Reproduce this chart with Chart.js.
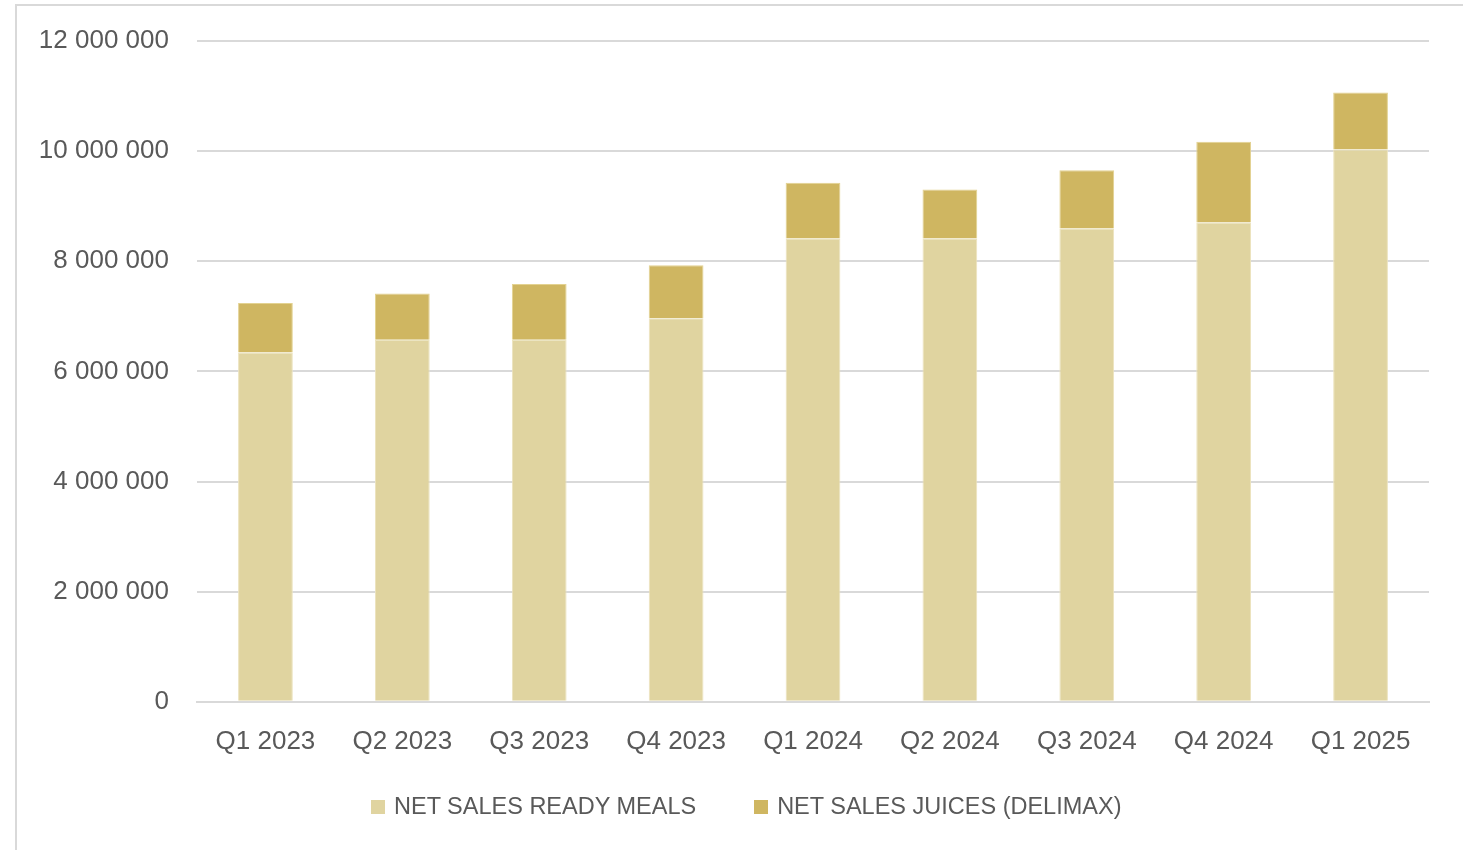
<!DOCTYPE html>
<html>
<head>
<meta charset="utf-8">
<script src="https://cdn.jsdelivr.net/npm/chart.js@4.4.1/dist/chart.umd.min.js"></script>
<style>
  html, body { margin: 0; padding: 0; background: #fff; }
  #wrap { position: relative; width: 1463px; height: 850px; overflow: hidden; font-family: 'Liberation Sans', Arial, sans-serif; }
  #frame { position: absolute; left: 15px; top: 4px; width: 1500px; height: 900px;
           border-left: 2px solid #d9d9d9; border-top: 2px solid #d9d9d9; }
  #chartBox { position: absolute; left: 0; top: 0; width: 1463px; height: 850px; }
  #legend { position: absolute; left: 371px; top: 793px; display: flex; align-items: center;
            font-size: 23.5px; color: #595959; white-space: nowrap; }
  #legend .item { display: flex; align-items: center; margin-right: 58px; }
  #legend .swatch { width: 14px; height: 14px; margin-right: 9px; }
</style>
</head>
<body>
<div id="wrap">
  <div id="frame"></div>
  <div id="chartBox"><canvas id="salesChart"></canvas></div>
  <div id="legend"></div>
</div>
<script>
// quarters on the x axis
const quarters = ['Q1 2023', 'Q2 2023', 'Q3 2023', 'Q4 2023', 'Q1 2024', 'Q2 2024', 'Q3 2024', 'Q4 2024', 'Q1 2025'];

// values
const readyMeals = [6345000, 6576000, 6576000, 6964000, 8413000, 8413000, 8594000, 8704000, 10031000];
const juices = [897000, 837000, 1011000, 963000, 1011000, 891000, 1061000, 1465000, 1036000];

const yTicks = [0, 2000000, 4000000, 6000000, 8000000, 10000000, 12000000];

const textColor = '#595959';
const gridColor = '#d9d9d9';
const fontFamily = "'Liberation Sans', Arial, sans-serif";

// 12000000 -> "12 000 000"
const fmt = v => String(v).replace(/\B(?=(\d{3})+(?!\d))/g, ' ');

const ctx = document.getElementById('salesChart').getContext('2d');
const chart = new Chart(ctx, {
    type: 'bar',
    data: {
        labels: quarters,
        datasets: [
            {
                label: 'NET SALES READY MEALS',
                data: readyMeals,
                backgroundColor: '#e0d4a0',
                borderColor: '#ece3bd',
                borderWidth: 1,
                barPercentage: 0.4,
                categoryPercentage: 1
            },
            {
                label: 'NET SALES JUICES (DELIMAX)',
                data: juices,
                backgroundColor: '#cfb661',
                borderColor: '#e3d291',
                borderWidth: 1,
                barPercentage: 0.4,
                categoryPercentage: 1
            }
        ]
    },
    options: {
        responsive: true,
        maintainAspectRatio: false,
        animation: false,
        layout: { padding: { left: 0, right: 34, top: 41, bottom: 69 } },
        plugins: {
            tooltip: { enabled: false },
            legend: { display: false }
        },
        scales: {
            x: {
                stacked: true,
                grid: { display: false, drawTicks: false },
                border: { color: gridColor, width: 2 },
                ticks: {
                    color: textColor,
                    font: { family: fontFamily, size: 26 },
                    padding: 24
                }
            },
            y: {
                stacked: true,
                min: 0,
                max: 12000000,
                afterBuildTicks: scale => { scale.ticks = yTicks.map(v => ({ value: v })); },
                afterFit: scale => { scale.width = 197; },
                // invisible tick marks give the gap between labels and plot
                grid: { color: gridColor, lineWidth: 2, drawTicks: true, tickLength: 28, tickColor: 'rgba(0,0,0,0)' },
                border: { display: false },
                ticks: {
                    color: textColor,
                    font: { family: fontFamily, size: 26 },
                    padding: 0,
                    callback: v => fmt(v)
                }
            }
        }
    }
});

// legend built from the datasets
const legendEl = document.getElementById('legend');
chart.data.datasets.forEach(ds => {
    const item = document.createElement('div');
    item.className = 'item';
    const sw = document.createElement('span');
    sw.className = 'swatch';
    sw.style.background = ds.backgroundColor;
    const txt = document.createElement('span');
    txt.textContent = ds.label;
    item.appendChild(sw);
    item.appendChild(txt);
    legendEl.appendChild(item);
});
</script>
</body>
</html>
